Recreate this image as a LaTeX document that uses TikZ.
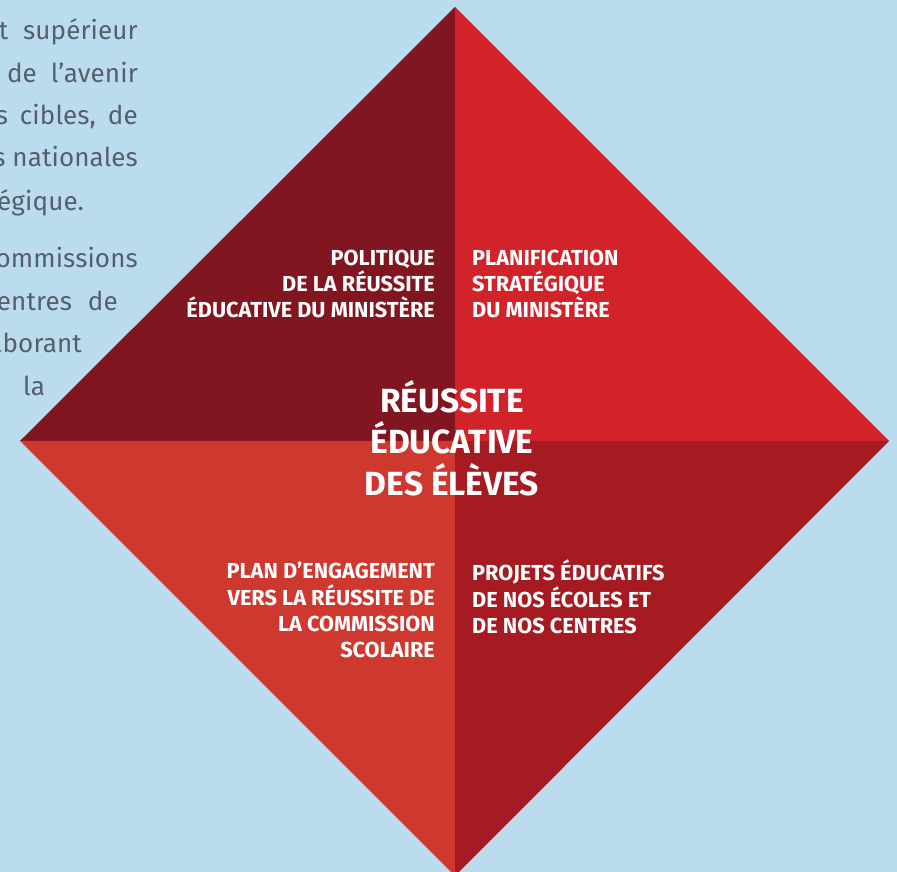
\documentclass[tikz,border=0pt]{standalone}
\usepackage{fontspec}
\setmainfont{Fira Sans}
\usepackage{tikz}
\newfontfamily\bodyfont[LetterSpace=0.5]{Fira Sans}

\definecolor{skyback}{RGB}{187,220,238}
\definecolor{wine}{RGB}{130,22,32}
\definecolor{scarlet}{RGB}{210,35,43}
\definecolor{brick}{RGB}{207,56,47}
\definecolor{crimson}{RGB}{166,27,33}
\definecolor{slate}{RGB}{85,95,108}

\begin{document}
\begin{tikzpicture}[x=1pt,y=1pt,
  quadlabel/.style={text=white,inner sep=0pt,font=\bfseries\fontsize{21.7}{26.3}\selectfont},
  corelabel/.style={text=white,inner sep=0pt,align=center,font=\bfseries\fontsize{33.5}{41.7}\selectfont},
  bodyline/.style={text=slate,inner sep=0pt,font=\bodyfont\fontsize{26}{42.5}\selectfont}]
\useasboundingbox (0,0) rectangle (897,872);
\fill[skyback] (0,0) rectangle (897,872);
\clip (0,0) rectangle (897,872);
% text of the page, cut by the frame
\node[bodyline,anchor=base east] (pa) at (138,832) {t\hspace{15pt}supérieur};
\node[bodyline,anchor=base east] (pb) at (138,789) {de\hspace{14pt}l’avenir};
\node[bodyline,anchor=base east] (pc) at (138,747) {s\hspace{12pt}cibles,\hspace{12pt}de};
\node[bodyline,anchor=base east] (pd) at (138,705) {s nationales};
\node[bodyline,anchor=base west] (pe) at (-3,661) {égique.};
\node[bodyline,anchor=base east] (pf) at (138,604) {ommissions};
\node[bodyline,anchor=base east] (pg) at (118,561) {entres\hspace{16pt}de};
\node[bodyline,anchor=base east] (ph) at (82,519) {aborant};
\node[bodyline,anchor=base west] (pi) at (23,476) {la};
% the diamond
\coordinate (ctr) at (455,431);
\coordinate (top) at (455,865);
\coordinate (lft) at (20,431);
\coordinate (rgt) at (889,431);
\coordinate (bot) at (455,-4);
\fill[wine] (ctr) -- (lft) -- (top) -- cycle;
\fill[scarlet] (ctr) -- (top) -- (rgt) -- cycle;
\fill[brick] (ctr) -- (lft) -- (bot) -- cycle;
\fill[crimson] (ctr) -- (bot) -- (rgt) -- cycle;
\node[quadlabel,anchor=base east,align=right] (polit) at (435,554.3) {POLITIQUE\\DE LA RÉUSSITE\\ÉDUCATIVE DU MINISTÈRE};
\node[quadlabel,anchor=base west,align=left] (plani) at (472,554.3) {PLANIFICATION\\STRATÉGIQUE\\DU MINISTÈRE};
\node[quadlabel,anchor=base east,align=right] (engag) at (435,214.3) {PLAN D’ENGAGEMENT\\VERS LA RÉUSSITE DE\\LA COMMISSION\\SCOLAIRE};
\node[quadlabel,anchor=base west,align=left] (projt) at (472,238.4) {PROJETS ÉDUCATIFS\\DE NOS ÉCOLES ET\\DE NOS CENTRES};
\node[corelabel,anchor=base] (eleve) at (452,376.3) {RÉUSSITE\\ÉDUCATIVE\\DES ÉLÈVES};
\end{tikzpicture}
\end{document}
